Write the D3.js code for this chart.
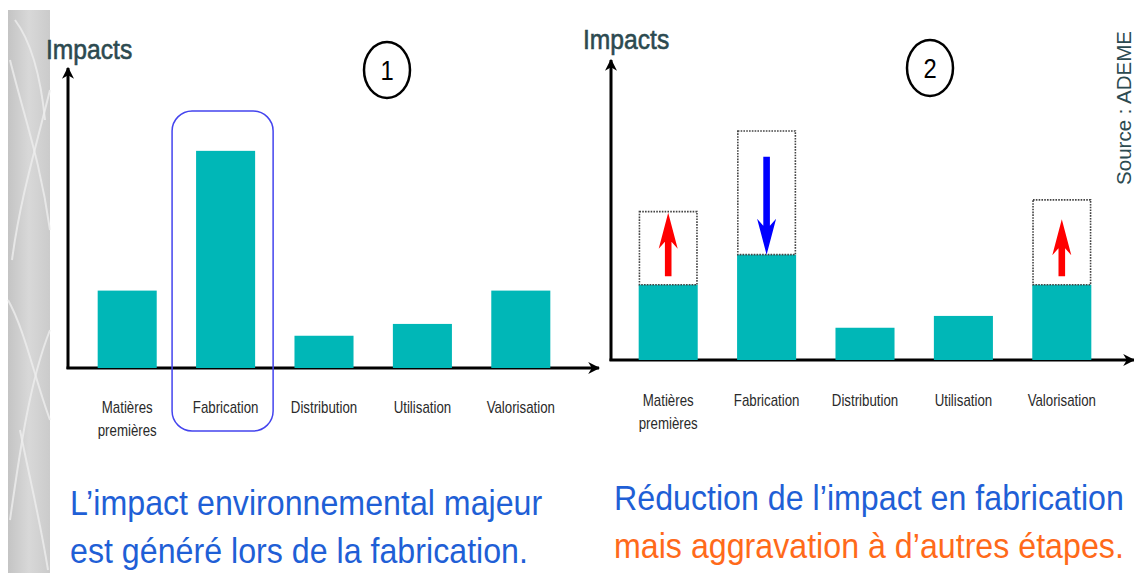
<html>

<head>
  <script src="https://d3js.org/d3.v7.min.js"></script>
  <style>
    body { margin: 0; background: #fff; }
    .narrow { font-family: "Liberation Sans", Arial, sans-serif; }
  </style>
</head>

<body>
  <svg width="1134" height="573" id="chart"></svg>
  <script>
    // Stages of a product's life cycle
    const stages = ["Matières premières", "Fabrication", "Distribution", "Utilisation", "Valorisation"];
    const stageLines = [["Matières", "premières"], ["Fabrication"], ["Distribution"], ["Utilisation"], ["Valorisation"]];

    // Scenario 1 impacts
    const impacts1 = [36, 101, 15, 20.5, 36];
    // Scenario 2 impacts, previous levels (dotted boxes) and change arrows
    const impacts2 = [35, 49, 15, 20.5, 35];
    const previous2 = [69, 106.5, null, null, 74.5];
    const arrowFrom = [39, 94.5, null, null, 39];
    const arrowTo = [68.5, 49, null, null, 65.5];

    const caption1 = ["L\u2019impact environnemental majeur", "est généré lors de la fabrication."];
    const caption2 = ["Réduction de l\u2019impact en fabrication", "mais aggravation à d\u2019autres étapes."];

    const teal = "#00b7b7";
    const slate = "#2c4a50";
    const squeeze = (x, y, s) => `translate(${x},${y}) scale(${s},1)`;

    const svg = d3.select("#chart");

    // grey textured strip on the left
    const defs = svg.append("defs");
    const grad = defs.append("linearGradient").attr("id", "strip").attr("x1", 0).attr("x2", 1);
    grad.append("stop").attr("offset", "0%").attr("stop-color", "#c4c4c4");
    grad.append("stop").attr("offset", "50%").attr("stop-color", "#d8d8d8");
    grad.append("stop").attr("offset", "100%").attr("stop-color", "#cbcbcb");
    svg.append("rect").attr("x", 8).attr("y", 10).attr("width", 42).attr("height", 563).attr("fill", "url(#strip)");
    const veins = ["M10,60 C25,120 40,160 50,230", "M50,90 C35,150 20,200 12,260", "M8,300 C25,330 35,380 50,420",
      "M50,330 C30,380 20,450 10,520", "M15,20 C30,40 40,70 45,120", "M20,430 C30,480 40,520 48,570"];
    svg.append("g").selectAll("path").data(veins).join("path")
      .attr("d", d => d).attr("fill", "none").attr("stroke", "#eeeeee").attr("stroke-width", 2).attr("opacity", 0.8);

    defs.append("marker").attr("id", "axisArrow")
      .attr("viewBox", "0 0 10 10").attr("refX", 9).attr("refY", 5)
      .attr("markerWidth", 4).attr("markerHeight", 4).attr("orient", "auto")
      .append("path").attr("d", "M0,0 L10,5 L0,10 L3,5 Z").attr("fill", "#000");

    function drawPanel(opts) {
      const g = svg.append("g");
      const x = d3.scaleBand().domain(stages).range(opts.xRange).paddingInner(0.4).paddingOuter(0.2);
      const y = d3.scaleLinear().domain([0, 100]).range([opts.base, opts.base - 215]);

      // axes with arrows
      g.append("line").attr("x1", opts.axisX).attr("x2", opts.axisX)
        .attr("y1", opts.base + 1).attr("y2", opts.top)
        .attr("stroke", "#000").attr("stroke-width", 3).attr("marker-end", "url(#axisArrow)");
      g.append("line").attr("x1", opts.axisX - 1.5).attr("x2", opts.axisEnd)
        .attr("y1", opts.base).attr("y2", opts.base)
        .attr("stroke", "#000").attr("stroke-width", 3).attr("marker-end", "url(#axisArrow)");

      g.selectAll("rect.bar").data(opts.values).join("rect").attr("class", "bar")
        .attr("x", (d, i) => x(stages[i]))
        .attr("y", d => y(d))
        .attr("width", x.bandwidth())
        .attr("height", d => y(0) - y(d))
        .attr("fill", teal);

      // category labels
      const axis = d3.axisBottom(x).tickSize(0).tickFormat("");
      const ax = g.append("g").attr("transform", `translate(0,${opts.labelY})`).call(axis);
      ax.select(".domain").remove();
      ax.selectAll(".tick").each(function (d, i) {
        const t = d3.select(this).append("text").attr("class", "narrow")
          .attr("transform", "scale(0.83,1)")
          .attr("text-anchor", "middle").attr("fill", "#2a2a2a").style("font-size", "16px");
        stageLines[i].forEach((line, j) => {
          t.append("tspan").attr("x", 0).attr("y", j * 23).text(line);
        });
      });

      g.append("text").attr("class", "narrow").attr("transform", squeeze(opts.titleX, opts.titleY, 0.88))
        .attr("fill", slate).attr("stroke", slate).attr("stroke-width", 0.6)
        .style("font-size", "28px").text("Impacts");

      g.append("ellipse").attr("cx", opts.circle[0]).attr("cy", opts.circle[1])
        .attr("rx", 23).attr("ry", 28).attr("fill", "none").attr("stroke", "#000").attr("stroke-width", 2.5);
      g.append("text").attr("class", "narrow").attr("transform", squeeze(opts.circle[0], opts.circle[1] + 10, 0.85))
        .attr("text-anchor", "middle").style("font-size", "28px").attr("fill", "#000").text(opts.num);

      return { g, x, y };
    }

    // Panel 1
    const p1 = drawPanel({ xRange: [78, 570], base: 368, top: 68, axisX: 68, axisEnd: 599, labelY: 413,
      values: impacts1, titleX: 46, titleY: 59, circle: [387, 70], num: "1" });

    p1.g.append("rect")
      .attr("x", p1.x("Fabrication") - 24).attr("width", p1.x.bandwidth() + 42)
      .attr("y", 111).attr("height", 320).attr("rx", 20)
      .attr("fill", "none").attr("stroke", "#4444ee").attr("stroke-width", 1.5);

    // Panel 2
    const p2 = drawPanel({ xRange: [619, 1111], base: 360, top: 60, axisX: 611, axisEnd: 1134, labelY: 406,
      values: impacts2, titleX: 583, titleY: 49, circle: [930, 68], num: "2" });

    p2.g.selectAll("rect.prev").data(previous2.map((v, i) => ({ v, i })).filter(d => d.v !== null))
      .join("rect").attr("class", "prev")
      .attr("x", d => p2.x(stages[d.i]) + 0.75)
      .attr("y", d => p2.y(d.v))
      .attr("width", p2.x.bandwidth() - 1.5)
      .attr("height", d => p2.y(impacts2[d.i]) - p2.y(d.v))
      .attr("fill", "none").attr("stroke", "#444").attr("stroke-width", 1.6).attr("stroke-dasharray", "1.6,1.2");

    function arrowShape(cx, y1, y2) {
      const dir = y2 < y1 ? -1 : 1; // -1 = up
      const head = 36, join = 29, sw = 3.3, hw = 9.5;
      const yj = y2 - dir * join, yb = y2 - dir * head;
      return `M${cx - sw},${y1} L${cx - sw},${yj} L${cx - hw},${yb} L${cx},${y2} L${cx + hw},${yb} L${cx + sw},${yj} L${cx + sw},${y1} Z`;
    }

    p2.g.selectAll("path.change").data(arrowFrom.map((v, i) => ({ from: v, to: arrowTo[i], i })).filter(d => d.from !== null))
      .join("path").attr("class", "change")
      .attr("d", d => arrowShape(p2.x(stages[d.i]) + p2.x.bandwidth() / 2, p2.y(d.from), p2.y(d.to)))
      .attr("fill", d => d.to > d.from ? "#ff0000" : "#0000ff");

    svg.append("text").attr("transform", "translate(1131,108) rotate(-90)")
      .attr("text-anchor", "middle").attr("fill", slate)
      .style("font-family", "'Liberation Sans', Arial, sans-serif").style("font-size", "20.5px")
      .text("Source : ADEME");

    // captions
    svg.append("g").selectAll("text").data(caption1).join("text").attr("class", "narrow")
      .attr("transform", (d, i) => squeeze(70, 515 + i * 48, 0.92))
      .attr("fill", "#1f5fd6").style("font-size", "35px").text(d => d);
    svg.append("g").selectAll("text").data(caption2).join("text").attr("class", "narrow")
      .attr("transform", (d, i) => squeeze(614, 510 + i * 48, 0.92))
      .attr("fill", (d, i) => i === 0 ? "#1f5fd6" : "#ff6a1a").style("font-size", "35px").text(d => d);
  </script>
</body>

</html>
